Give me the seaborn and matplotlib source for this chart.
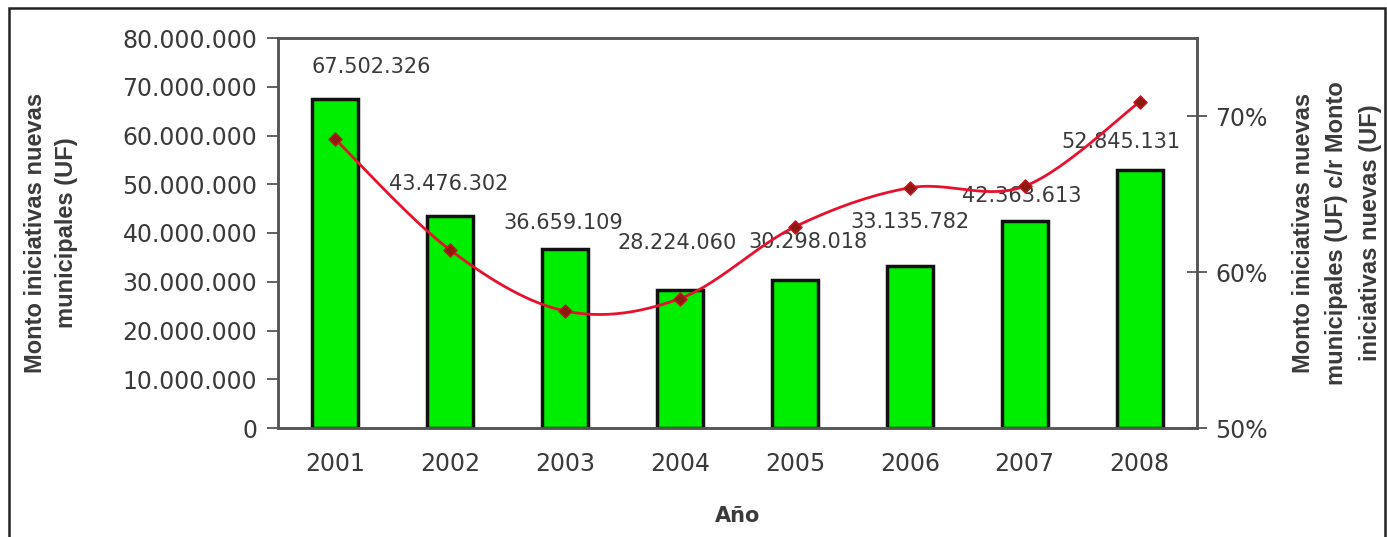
import numpy as np
import pandas as pd
import matplotlib
matplotlib.use("Agg")
import matplotlib.pyplot as plt
import seaborn as sns
from matplotlib.ticker import FuncFormatter, FixedLocator
from matplotlib.patches import Rectangle

years = ["2001", "2002", "2003", "2004", "2005", "2006", "2007", "2008"]
monto = [67502326, 43476302, 36659109, 28224060, 30298018, 33135782, 42363613, 52845131]
pct = [68.5, 61.4, 57.5, 58.3, 62.9, 65.4, 65.5, 70.9]
labels = ["67.502.326", "43.476.302", "36.659.109", "28.224.060",
          "30.298.018", "33.135.782", "42.363.613", "52.845.131"]

# label offsets in pixels (dx, dy) relative to bar top
label_dx = [36, -2, -2, -3, 13, 0, -3, -19]
label_dy = [32, 32, 26, 47, 38, 44, 25, 28]

sns.set_style("white")
plt.rcParams["font.family"] = ["DejaVu Sans"]
txt = "#3a3a3a"
frame = "#555555"

fig = plt.figure(figsize=(13.87, 5.37), dpi=100)
ax = fig.add_axes([278 / 1387, 109 / 537, 919 / 1387, 390 / 537])

df = pd.DataFrame({"year": years, "monto": monto})
sns.barplot(data=df, x="year", y="monto", color="#00ee00", saturation=1,
            edgecolor="#111111", linewidth=2.5, width=0.4, ax=ax)
ax.set_xlim(-0.5, 7.5)
ax.set_ylim(0, 80000000)
ax.set_yticks(np.arange(0, 80000001, 10000000))
ax.yaxis.set_major_formatter(FuncFormatter(lambda v, p: f"{int(v):,}".replace(",", ".")))
ax.tick_params(axis="y", direction="out", length=8, width=1.3, color=frame,
               labelsize=17, labelcolor=txt, pad=7)
ax.tick_params(axis="x", which="major", length=0, labelsize=17, labelcolor=txt, pad=17)
ax.xaxis.set_minor_locator(FixedLocator(np.arange(0.5, 7, 1)))
ax.tick_params(axis="x", which="minor", direction="out", length=6, width=1.3, color=frame)
for s in ax.spines.values():
    s.set_color(frame)
    s.set_linewidth(1.8)

ax.set_xlabel("Año", fontsize=15, fontweight="bold", color=txt, labelpad=22)
ax.set_ylabel("Monto iniciativas nuevas\nmunicipales (UF)", fontsize=17, fontweight="bold",
              color=txt, family="Liberation Sans", linespacing=1.45)
ax.yaxis.set_label_coords(-0.218, 0.5)

for i, (v, lab) in enumerate(zip(monto, labels)):
    ax.annotate(lab, (i, v), xytext=(label_dx[i], label_dy[i]), textcoords="offset pixels",
                ha="center", va="center", fontsize=15, color=txt)

# right axis: smoothed percentage line
ax2 = ax.twinx()
x = np.arange(len(pct))
y = np.array(pct)
P = np.concatenate([[y[0]], y, [y[-1]]])
X = np.concatenate([[x[0]], x, [x[-1]]])
t = np.linspace(0, 1, 30)
xs, ys = [], []
for i in range(len(pct) - 1):
    p0, p1, p2, p3 = P[i], P[i + 1], P[i + 2], P[i + 3]
    q0, q1, q2, q3 = X[i], X[i + 1], X[i + 2], X[i + 3]
    c1y, c2y = p1 + (p2 - p0) / 6, p2 - (p3 - p1) / 6
    c1x, c2x = q1 + (q2 - q0) / 6, q2 - (q3 - q1) / 6
    b = [(1 - t) ** 3, 3 * (1 - t) ** 2 * t, 3 * (1 - t) * t ** 2, t ** 3]
    xs.append(b[0] * q1 + b[1] * c1x + b[2] * c2x + b[3] * q2)
    ys.append(b[0] * p1 + b[1] * c1y + b[2] * c2y + b[3] * p2)
curve = pd.DataFrame({"x": np.concatenate(xs), "y": np.concatenate(ys)})
sns.lineplot(data=curve, x="x", y="y", sort=False, color="#e8112d", linewidth=2, ax=ax2)
sns.scatterplot(x=x, y=y, marker="D", s=45, color="#8b1a10", edgecolor="#d01020",
                linewidth=1, zorder=5, ax=ax2)
ax2.set_ylim(50, 75)
ax2.set_yticks([50, 60, 70])
ax2.yaxis.set_major_formatter(FuncFormatter(lambda v, p: f"{int(v)}%"))
ax2.tick_params(axis="y", direction="inout", length=14, width=1.3, color=frame,
                labelsize=17, labelcolor=txt, pad=6)
ax2.set_ylabel("Monto iniciativas nuevas\nmunicipales (UF) c/r Monto\niniciativas nuevas (UF)",
               fontsize=17, fontweight="bold", color=txt, family="Liberation Sans",
               linespacing=1.6)
ax2.yaxis.set_label_coords(1.103, 0.5)
ax2.set_xlabel("")
for s in ax2.spines.values():
    s.set_color(frame)
    s.set_linewidth(1.8)
ax.set_xlim(-0.5, 7.5)

fig.patches.append(Rectangle((9 / 1387, -0.05), 1376 / 1387, 1.05 - 8 / 537,
                             transform=fig.transFigure, fill=False,
                             edgecolor="#222222", linewidth=1.8))

fig.savefig("out.png", dpi=100)
